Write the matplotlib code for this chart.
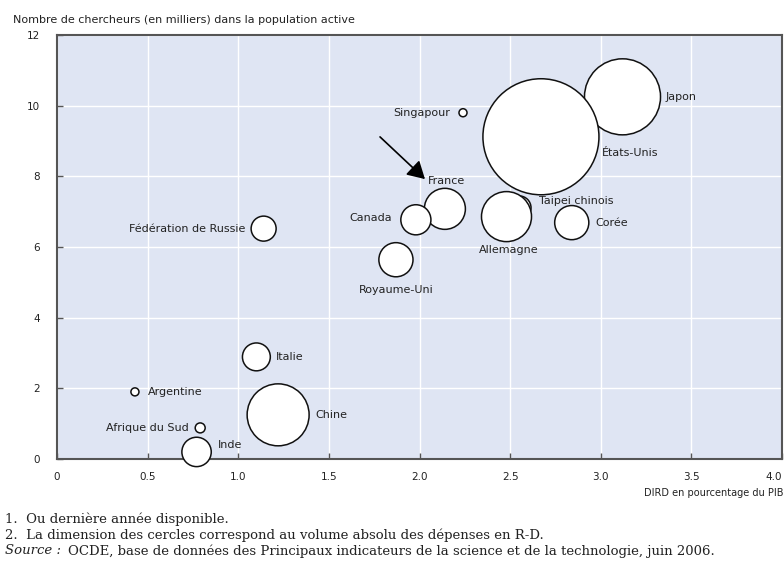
import matplotlib
matplotlib.use("Agg")
import matplotlib.pyplot as plt
import matplotlib.patches as mpatches
import numpy as np

# Data
pays = ["Japon", "Singapour", "États-Unis", "France", "Taipei chinois", "Corée",
        "Canada", "Allemagne", "Royaume-Uni", "Fédération de Russie", "Italie",
        "Argentine", "Chine", "Afrique du Sud", "Inde"]
dird_pib = [3.12, 2.24, 2.67, 2.14, 2.55, 2.84, 1.98, 2.48, 1.87, 1.14, 1.10, 0.43, 1.22, 0.79, 0.77]
chercheurs = [10.25, 9.80, 9.12, 7.08, 7.11, 6.69, 6.77, 6.86, 5.64, 6.52, 2.89, 1.90, 1.25, 0.88, 0.20]
depenses_rd = [134, 1.5, 312, 39, 13, 27, 21, 58, 27, 14.5, 18, 1.5, 89, 2.3, 20]

xticks = [0, 0.5, 1.0, 1.5, 2.0, 2.5, 3.0, 3.5, 4.0]
xticklabels = ["0", "0.5", "1.0", "1.5", "2.0", "2.5", "3.0", "3.5", "4.0"]
yticks = [0, 2, 4, 6, 8, 10, 12]

# label offsets in points (dx, dy, ha)
offsets = {
    "Japon": (31, 0, "left"),
    "Singapour": (-9, 0, "right"),
    "États-Unis": (44, -12, "left"),
    "France": (-12, 20, "left"),
    "Taipei chinois": (14, 5, "left"),
    "Corée": (17, 0, "left"),
    "Canada": (-17, 1.5, "right"),
    "Allemagne": (1.5, -24, "center"),
    "Royaume-Uni": (0, -22, "center"),
    "Fédération de Russie": (-13, 0, "right"),
    "Italie": (14, 0, "left"),
    "Argentine": (9, 0, "left"),
    "Chine": (27, 0, "left"),
    "Afrique du Sud": (-8, 0, "right"),
    "Inde": (15, 5, "left"),
}

fig = plt.figure(figsize=(7.84, 5.66), dpi=100)
ax = fig.add_axes([57/784, 1-459/566, (782-57)/784, (459-35)/566])
bg = "#dfe5f3"
ax.set_facecolor(bg)
ax.set_xlim(0, 4.0)
ax.set_ylim(0, 12)
ax.set_xticks(xticks)
ax.set_xticklabels(xticklabels)
ax.set_yticks(yticks)
ax.grid(True, color="white", linewidth=1.0)
ax.set_axisbelow(True)
for s in ["left", "bottom", "top", "right"]:
    ax.spines[s].set_color("#555555")
    ax.spines[s].set_linewidth(1.5)
ax.tick_params(direction="in", length=4, width=1, color="#555555",
               labelsize=7.5, labelcolor="#222222", pad=9)
ax.tick_params(axis="y", pad=12)
ax.get_xticklabels()[-1].set_horizontalalignment("right")

k = 0.0927  # value per px^2 of radius
sizes = [(2 * np.sqrt(v / k) * 0.72) ** 2 for v in depenses_rd]
ax.scatter(dird_pib, chercheurs, s=sizes, facecolor="white", edgecolor="#111111",
           linewidth=1.1, zorder=3, clip_on=False)

for p, x, y in zip(pays, dird_pib, chercheurs):
    dx, dy, ha = offsets[p]
    ax.annotate(p, (x, y), xytext=(dx, dy), textcoords="offset points",
                ha=ha, va="center", fontsize=8, color="#222222", zorder=4)

# arrow pointing to France
fig.add_artist(mpatches.FancyArrowPatch(
    (378/784, 1-135/566), (427/784, 1-181/566), transform=fig.transFigure,
    arrowstyle="-|>,head_length=7,head_width=4", mutation_scale=1.5,
    color="black", linewidth=1.2))

fig.text(13/784, 1-20/566, "Nombre de chercheurs (en milliers) dans la population active",
         fontsize=8, color="#222222", va="center", ha="left")
fig.text(783/784, 1-493/566, "DIRD en pourcentage du PIB",
         fontsize=7, color="#222222", va="center", ha="right")

foot_kw = dict(fontsize=9.5, family="DejaVu Serif", color="#222222", va="center", ha="left")
fig.text(5/784, 1-519/566, "1.  Ou dernière année disponible.", **foot_kw)
fig.text(5/784, 1-535/566, "2.  La dimension des cercles correspond au volume absolu des dépenses en R-D.", **foot_kw)
fig.text(5/784, 1-551/566, "Source :", style="italic", **foot_kw)
fig.text(68/784, 1-551/566, "OCDE, base de données des Principaux indicateurs de la science et de la technologie, juin 2006.", **foot_kw)

fig.savefig("out.png", dpi=100)
